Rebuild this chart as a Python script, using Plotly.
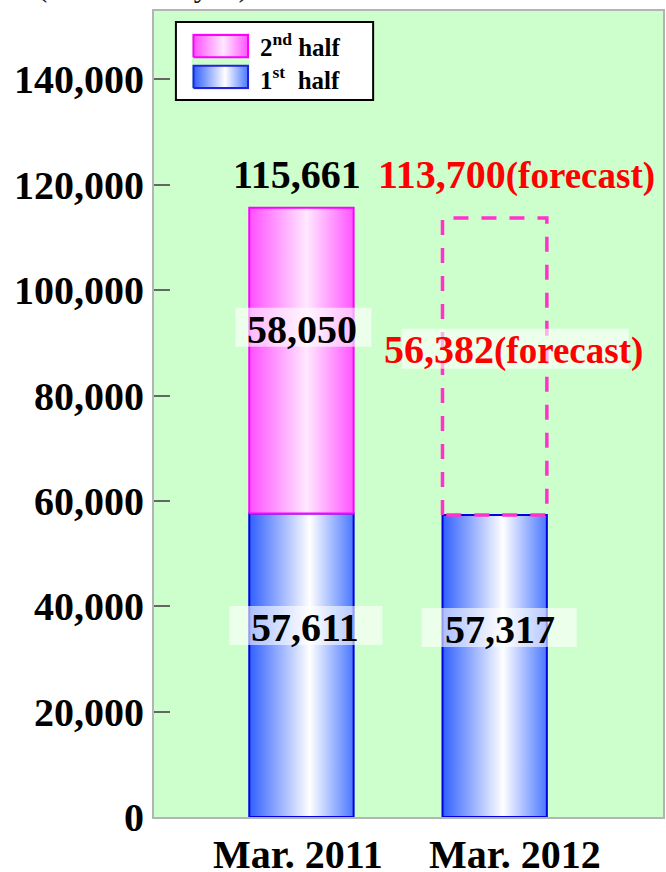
import plotly.graph_objects as go

# ---- data ----
categories = ["Mar. 2011", "Mar. 2012"]
first_half = [57611, 57317]
second_half = [58050, None]          # 2012 second half is a forecast
forecast_second = [None, 56382]
totals = [115661, None]
forecast_total = [None, 113700]
y_ticks = [0, 20000, 40000, 60000, 80000, 100000, 120000, 140000]
unit_label = "(Millions of yen)"
legend_labels = ["2<sup>nd</sup> half", "1<sup>st</sup>  half"]

FONT = "Liberation Serif"
BLUE_SCALE = [[0, "#3060ff"], [0.58, "#ffffff"], [1, "#4a78ff"]]
PINK_SCALE = [[0, "#ff50ff"], [0.55, "#ffe8ff"], [1, "#ff55ff"]]
HALF_W = 0.27

fig = go.Figure()


def rect(xc, y0, y1, scale, line_color, xa="x", ya="y"):
    return go.Scatter(
        x=[xc - HALF_W, xc - HALF_W, xc + HALF_W, xc + HALF_W, xc - HALF_W],
        y=[y0, y1, y1, y0, y0],
        mode="lines", fill="toself",
        fillgradient=dict(type="horizontal", colorscale=scale),
        line=dict(color=line_color, width=2),
        xaxis=xa, yaxis=ya, showlegend=False, hoverinfo="skip",
    )


for i, cat in enumerate(categories):
    fig.add_trace(rect(i, 0, first_half[i], BLUE_SCALE, "#0000e0"))
    if second_half[i] is not None:
        fig.add_trace(rect(i, first_half[i], first_half[i] + second_half[i], PINK_SCALE, "#ff00ff"))
    if forecast_total[i] is not None:
        x0, x1 = i - HALF_W, i + HALF_W
        fig.add_trace(go.Scatter(
            x=[x0, x0, x1, x1, x0],
            y=[first_half[i], forecast_total[i], forecast_total[i], first_half[i], first_half[i]],
            mode="lines", line=dict(color="#ff33cc", width=3.5, dash="15px,13px"),
            showlegend=False, hoverinfo="skip"))

# legend swatches on a small helper axis
fig.add_trace(go.Scatter(x=[0, 0, 1, 1, 0], y=[0.58, 1, 1, 0.58, 0.58], mode="lines", fill="toself",
                         fillgradient=dict(type="horizontal", colorscale=PINK_SCALE),
                         line=dict(color="#ff00ff", width=2), xaxis="x2", yaxis="y2",
                         showlegend=False, hoverinfo="skip"))
fig.add_trace(go.Scatter(x=[0, 0, 1, 1, 0], y=[0, 0.42, 0.42, 0, 0], mode="lines", fill="toself",
                         fillgradient=dict(type="horizontal", colorscale=BLUE_SCALE),
                         line=dict(color="#2222dd", width=2), xaxis="x2", yaxis="y2",
                         showlegend=False, hoverinfo="skip"))

annotations = []
shapes = []


def label(x, y, text, color, xshift, box=None, size=40):
    annotations.append(dict(x=x, y=y, xref="x", yref="y", text=text, showarrow=False,
                            xshift=xshift, yanchor="middle", xanchor="center",
                            font=dict(family=FONT, size=size, color=color, weight="bold")))
    if box is not None:
        l, r, t, b = box
        shapes.append(dict(type="rect", xref="x", yref="y", xsizemode="pixel", ysizemode="pixel",
                           xanchor=x, yanchor=y, x0=xshift - l, x1=xshift + r, y0=-b, y1=t,
                           fillcolor="rgba(255,255,255,0.6)", line=dict(width=0), layer="above"))


FC = "<span style='font-size:37px'>(forecast)</span>"
# totals
label(0, totals[0], f"{totals[0]:,}", "black", -4)
annotations[-1]["yshift"] = 33
label(1, totals[0], f"{forecast_total[1]:,}" + FC, "#ff0000", 22)
annotations[-1]["yshift"] = 33
# segment values
label(0, 92500, f"{second_half[0]:,}", "black", 1, box=(67, 69, 22, 17))
label(0, 35900, f"{first_half[0]:,}", "black", 4, box=(76, 77, 22, 17))
label(1, 35500, f"{first_half[1]:,}", "black", 5, box=(78, 77, 22, 17))
label(1, 88700, f"{forecast_second[1]:,}" + FC, "#ff0000", 19, box=(112, 115, 21, 19))

# category labels
for i, cat in enumerate(categories):
    annotations.append(dict(x=i, y=0, xref="x", yref="paper", text=cat, showarrow=False,
                            xshift=[-3, 20][i], yshift=-37, yanchor="middle",
                            font=dict(family=FONT, size=40, color="black", weight="bold")))

# unit label (cut at top of the page)
annotations.append(dict(x=(143 - 154) / 511, y=(817 + 15) / 806, xref="paper", yref="paper",
                        text=unit_label, showarrow=False, xanchor="center", yanchor="middle",
                        font=dict(family=FONT, size=31, color="#222222")))

# legend box + texts
shapes.append(dict(type="rect", xref="paper", yref="paper", x0=(176 - 154) / 511, x1=(374 - 154) / 511,
                   y0=(817 - 100) / 806, y1=(817 - 22) / 806, line=dict(color="black", width=2),
                   fillcolor="white", layer="below"))
for txt, ypx in zip(legend_labels, [45, 78]):
    annotations.append(dict(x=(258 - 154) / 511, y=(817 - ypx) / 806, xref="paper", yref="paper",
                            text=txt, showarrow=False, xanchor="left", yanchor="middle",
                            font=dict(family=FONT, size=25, color="black", weight="bold")))

fig.update_layout(
    width=666, height=872,
    margin=dict(l=154, r=1, t=11, b=55),
    paper_bgcolor="white", plot_bgcolor="#ccffcc",
    showlegend=False,
    annotations=annotations, shapes=shapes,
    xaxis=dict(range=[-0.763, 1.871], showticklabels=False, ticks="", showgrid=False, zeroline=False,
               showline=True, mirror=True, linecolor="#b4b4b4", linewidth=2, fixedrange=True),
    yaxis=dict(range=[0, 153000], tickvals=y_ticks, tickformat=",d", ticks="inside", ticklen=16,
               tickwidth=2, tickcolor="#666666", showgrid=False, zeroline=False,
               showline=True, mirror=True, linecolor="#b4b4b4", linewidth=2,
               tickfont=dict(family=FONT, size=40, color="black", weight="bold")),
    xaxis2=dict(domain=[(192 - 154) / 511, (250 - 154) / 511], range=[-0.03, 1.03], visible=False,
                anchor="y2"),
    yaxis2=dict(domain=[(817 - 90) / 806, (817 - 33) / 806], range=[-0.04, 1.04], visible=False,
                anchor="x2"),
)

fig.write_html("out.html")
